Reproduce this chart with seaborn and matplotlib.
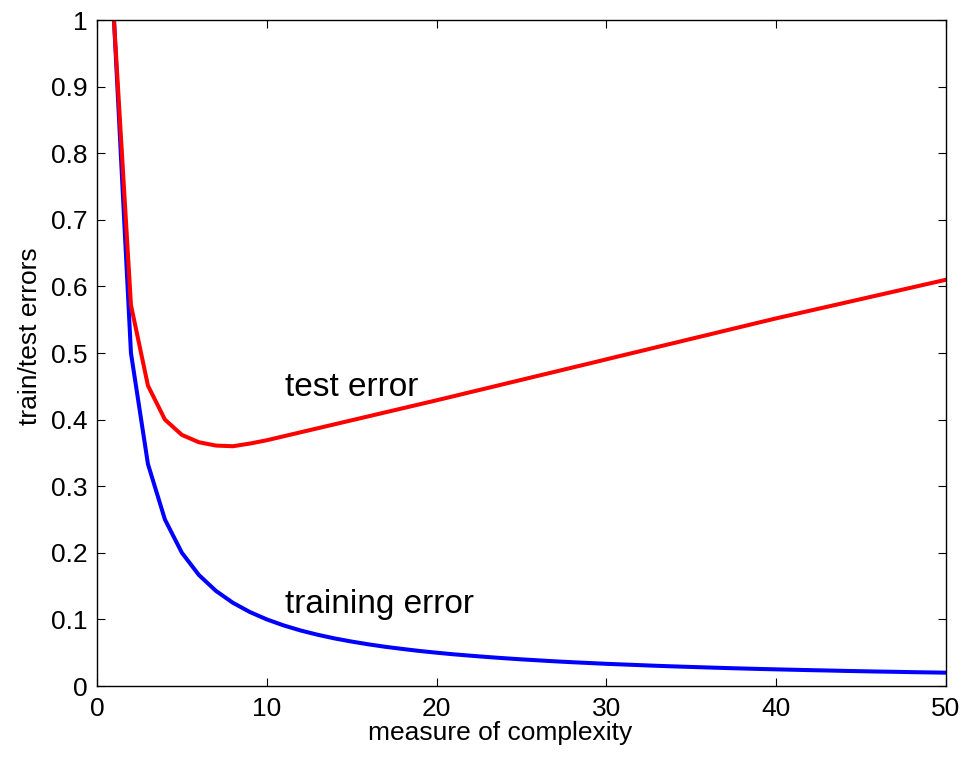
import numpy as np
import pandas as pd
import matplotlib
matplotlib.use("Agg")
import matplotlib.pyplot as plt
import seaborn as sns

# ---- data ----
complexity = list(range(1, 51))
training_error = [1.0000, 0.5000, 0.3333, 0.2500, 0.2000, 0.1667, 0.1429, 0.1250, 0.1111, 0.1000,
                  0.0909, 0.0833, 0.0769, 0.0714, 0.0667, 0.0625, 0.0588, 0.0556, 0.0526, 0.0500,
                  0.0476, 0.0455, 0.0435, 0.0417, 0.0400, 0.0385, 0.0370, 0.0357, 0.0345, 0.0333,
                  0.0323, 0.0313, 0.0303, 0.0294, 0.0286, 0.0278, 0.0270, 0.0263, 0.0256, 0.0250,
                  0.0244, 0.0238, 0.0233, 0.0227, 0.0222, 0.0217, 0.0213, 0.0208, 0.0204, 0.0200]
test_error = [1.000, 0.572, 0.451, 0.400, 0.377, 0.366, 0.361, 0.360, 0.364, 0.369,
              0.375, 0.381, 0.387, 0.393, 0.399, 0.405, 0.411, 0.417, 0.423, 0.429,
              0.4351, 0.4413, 0.4474, 0.4536, 0.4597, 0.4659, 0.4720, 0.4782, 0.4843, 0.4905,
              0.4967, 0.5028, 0.5090, 0.5151, 0.5213, 0.5274, 0.5336, 0.5397, 0.5459, 0.5520,
              0.5578, 0.5636, 0.5694, 0.5752, 0.5810, 0.5868, 0.5926, 0.5984, 0.6042, 0.6100]
x_ticks = [0, 10, 20, 30, 40, 50]
y_ticks = [0, 0.1, 0.2, 0.3, 0.4, 0.5, 0.6, 0.7, 0.8, 0.9, 1.0]
y_tick_labels = ["0", "0.1", "0.2", "0.3", "0.4", "0.5", "0.6", "0.7", "0.8", "0.9", "1"]

sns.set_theme(style="white")
plt.rcParams["font.family"] = ["Liberation Sans", "DejaVu Sans"]

df = pd.DataFrame({"complexity": complexity,
                   "training": training_error,
                   "test": test_error})

fig = plt.figure(figsize=(9.65, 7.57), dpi=100)
ax = fig.add_axes([97 / 965, 1 - 686 / 757, (946 - 97) / 965, (686 - 20) / 757])

sns.lineplot(data=df, x="complexity", y="training", ax=ax, color=(0, 0, 1), linewidth=2.9)
sns.lineplot(data=df, x="complexity", y="test", ax=ax, color=(1, 0, 0), linewidth=2.9)

ax.set_xlim(0, 50)
ax.set_ylim(0, 1)
ax.set_xticks(x_ticks)
ax.set_xticklabels([str(t) for t in x_ticks])
ax.set_yticks(y_ticks)
ax.set_yticklabels(y_tick_labels)

for s in ax.spines.values():
    s.set_visible(True)
    s.set_color("black")
    s.set_linewidth(1.0)

ax.tick_params(axis="both", which="major", direction="in", length=6, width=0.8,
               color="black", labelsize=19, labelcolor="black",
               top=True, right=True, bottom=True, left=True)
ax.tick_params(axis="x", pad=8)
ax.tick_params(axis="y", pad=7)

ax.set_xlabel("measure of complexity", fontsize=19, color="black")
ax.set_ylabel("train/test errors", fontsize=19, color="black")
ax.xaxis.set_label_coords(0.4747, -0.052)
ax.yaxis.set_label_coords(-0.065, 0.525)

ax.text(11.1, 0.435, "test error", fontsize=24, ha="left", va="baseline", color="black")
ax.text(11.1, 0.11, "training error", fontsize=24, ha="left", va="baseline", color="black")

fig.savefig("out.png", dpi=100, facecolor="white")
